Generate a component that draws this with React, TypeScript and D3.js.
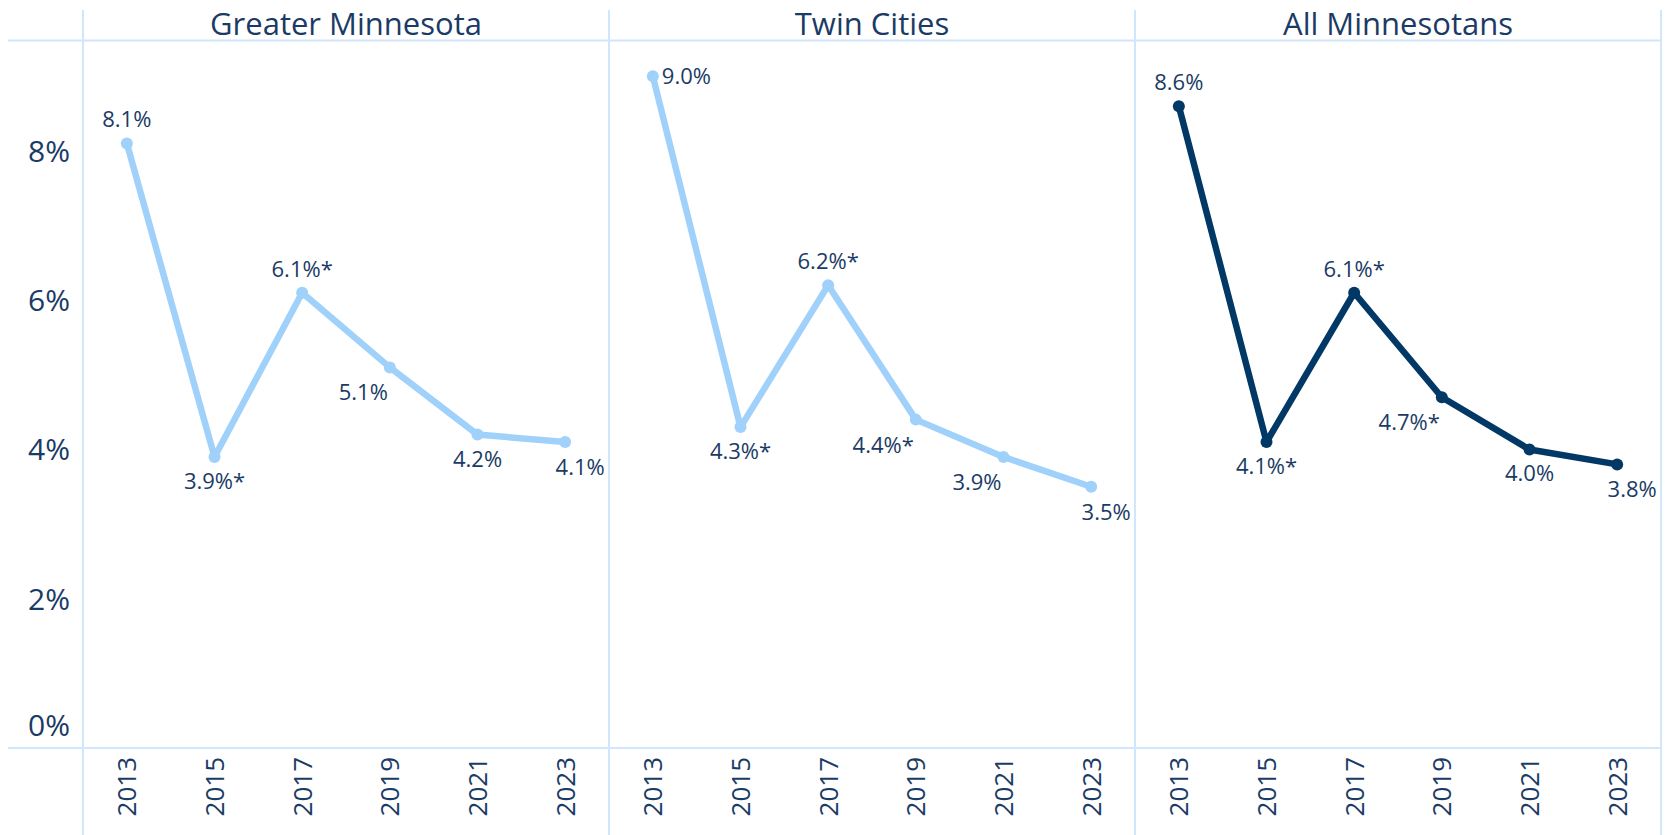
import React from "react";
import * as d3 from "d3";

const YEARS = ["2013", "2015", "2017", "2019", "2021", "2023"];
const PANELS = ["Greater Minnesota", "Twin Cities", "All Minnesotans"];
const greaterMN = [8.1, 3.9, 6.1, 5.1, 4.2, 4.1];
const twinCities = [9.0, 4.3, 6.2, 4.4, 3.9, 3.5];
const allMN = [8.6, 4.1, 6.1, 4.7, 4.0, 3.8];
const greaterMNSig = [false, true, true, false, false, false];
const twinCitiesSig = [false, true, true, true, false, false];
const allMNSig = [false, true, true, true, false, false];
const Y_TICKS = [0, 2, 4, 6, 8];

const greaterMNLabelPos = ["above", "below", "above", "belowLeft", "below", "belowRight"];
const twinCitiesLabelPos = ["right", "below", "above", "belowLeft", "belowLeft", "belowRight"];
const allMNLabelPos = ["above", "below", "above", "belowLeft", "below", "belowRight"];

const SERIES = [greaterMN, twinCities, allMN];
const SIGS = [greaterMNSig, twinCitiesSig, allMNSig];
const LABELPOS = [greaterMNLabelPos, twinCitiesLabelPos, allMNLabelPos];
const LINE_COLORS = ["#a0d1fa", "#a0d1fa", "#023866"];

const W = 1671;
const H = 835;
const FONT = "'Open Sans', 'Noto Sans', sans-serif";
const TEXT = "#1a3b65";
const GRID = "#cfe6fb";

export default function App() {
  const left = 83;
  const right = 1661;
  const top = 40.5;
  const bottom = 748;
  const panelW = (right - left) / PANELS.length;

  const y = d3.scaleLinear().domain([0, 9.48]).range([bottom, top]);
  const panelScale = d3.scaleBand<string>().domain(PANELS).range([left, right]).padding(0);

  return (
    <svg
      width={W}
      height={H}
      style={{ position: "absolute", left: 0, top: 0, display: "block", background: "#fff" }}
      fontFamily={FONT}
    >
      <line x1={8} x2={right} y1={top} y2={top} stroke={GRID} strokeWidth={2} />
      <line x1={8} x2={right} y1={bottom} y2={bottom} stroke={GRID} strokeWidth={2} />
      {[...PANELS.map((p) => panelScale(p) as number), right].map((x, i) => (
        <line key={"v" + i} x1={x} x2={x} y1={10} y2={H} stroke={GRID} strokeWidth={2} />
      ))}

      {Y_TICKS.map((t) => (
        <text
          key={"yt" + t}
          x={70}
          y={t === 0 ? y(t) - 23 + 11 : y(t) + 11}
          textAnchor="end"
          fontSize={30}
          fill={TEXT}
        >
          {t + "%"}
        </text>
      ))}

      {PANELS.map((p, pi) => {
        const x0 = panelScale(p) as number;
        const x = d3.scaleBand<string>().domain(YEARS).range([x0, x0 + panelW]).padding(0);
        const cx = (yr: string) => (x(yr) as number) + x.bandwidth() / 2;
        const vals = SERIES[pi];
        const pts = YEARS.map((yr, i) => [cx(yr), y(vals[i])] as [number, number]);
        const line = d3.line<[number, number]>()(pts) || "";
        const color = LINE_COLORS[pi];
        return (
          <g key={p}>
            <text x={x0 + panelW / 2} y={35} textAnchor="middle" fontSize={31} fill={TEXT}>
              {p}
            </text>
            <path d={line} fill="none" stroke={color} strokeWidth={6.5} strokeLinejoin="round" strokeLinecap="round" />
            {pts.map(([px, py], i) => (
              <circle key={"c" + i} cx={px} cy={py} r={6} fill={color} />
            ))}
            {pts.map(([px, py], i) => {
              const label = vals[i].toFixed(1) + "%" + (SIGS[pi][i] ? "*" : "");
              const pos = LABELPOS[pi][i];
              let tx = px;
              let ty = py;
              let anchor: "start" | "middle" | "end" = "middle";
              if (pos === "above") {
                ty = py - 16;
              } else if (pos === "below") {
                ty = py + 32;
              } else if (pos === "belowLeft") {
                tx = px - 2;
                ty = py + 33;
                anchor = "end";
              } else if (pos === "belowRight") {
                tx = px + 15;
                ty = py + 33;
              } else if (pos === "right") {
                tx = px + 9;
                ty = py + 8;
                anchor = "start";
              }
              return (
                <text key={"l" + i} x={tx} y={ty} textAnchor={anchor} fontSize={22} fill={TEXT}>
                  {label}
                </text>
              );
            })}
            {YEARS.map((yr) => (
              <text
                key={"yr" + yr}
                transform={`translate(${cx(yr)},${757}) rotate(-90)`}
                textAnchor="end"
                dy="0.36em"
                fontSize={26}
                fill={TEXT}
              >
                {yr}
              </text>
            ))}
          </g>
        );
      })}
    </svg>
  );
}
